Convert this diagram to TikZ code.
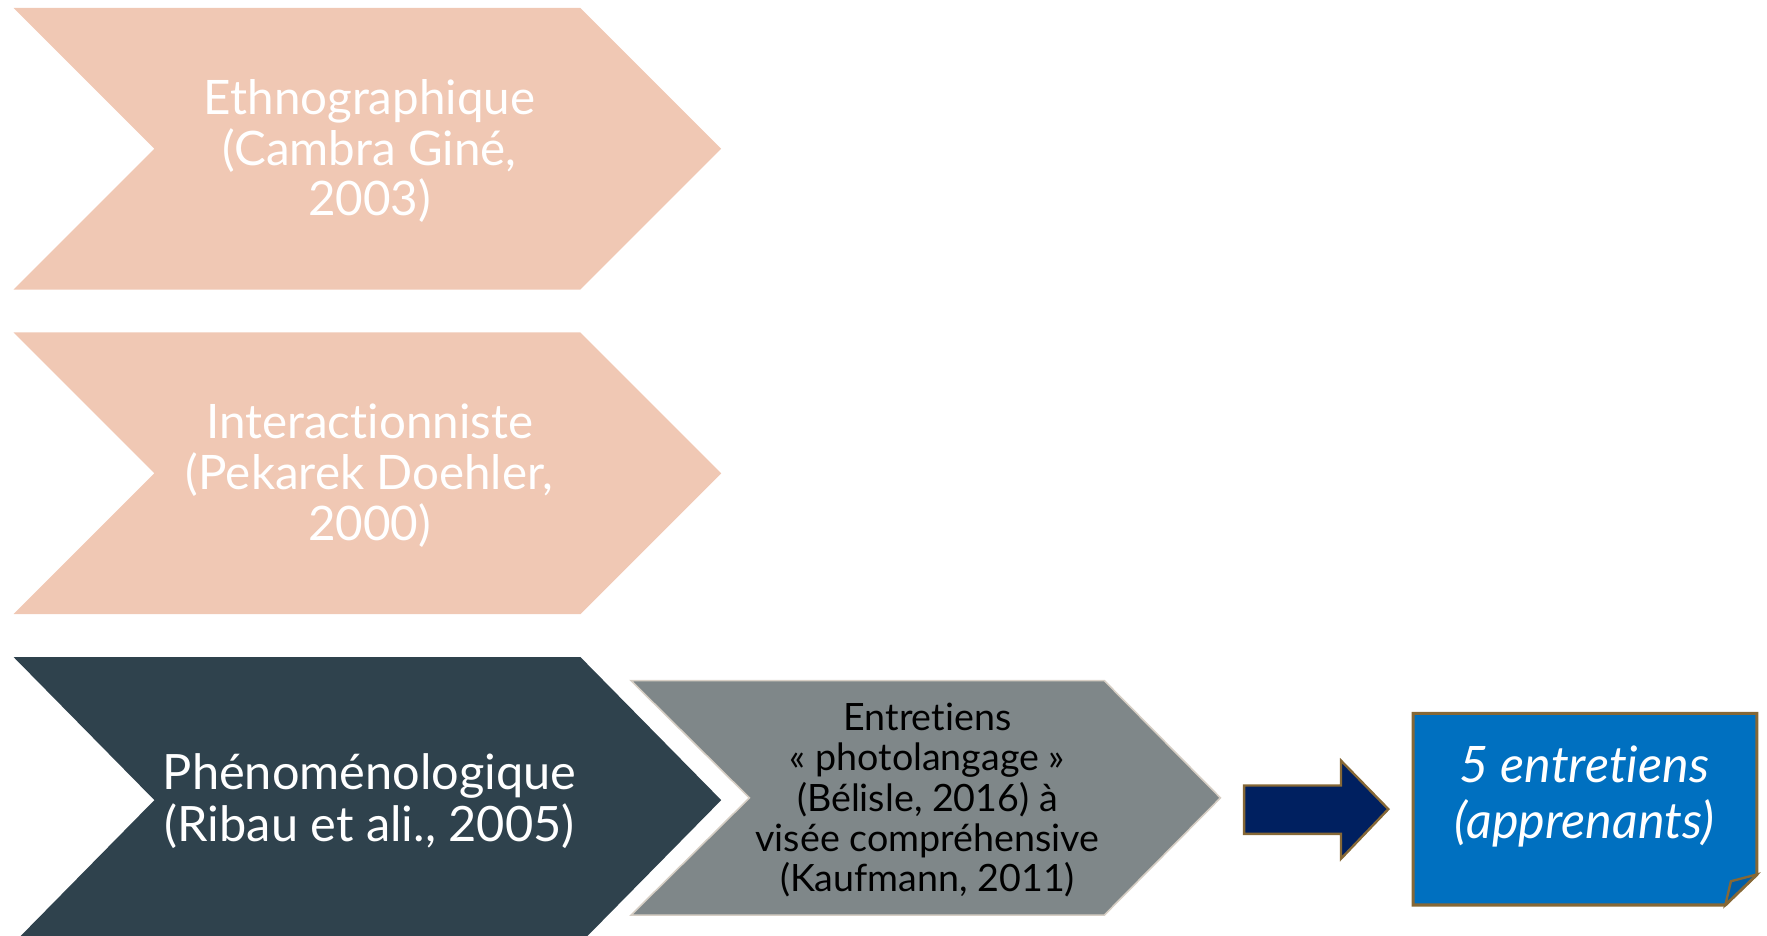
\documentclass[tikz,border=0pt]{standalone}
\usepackage{fontspec}
\setmainfont{Lato}[Ligatures={NoCommon}]
\usepackage{tikz}

\definecolor{pinkfill}{RGB}{240,200,180}
\definecolor{slatefill}{RGB}{47,66,77}
\definecolor{greyfill}{RGB}{127,135,137}
\definecolor{greyline}{RGB}{214,206,196}
\definecolor{navyfill}{RGB}{0,32,96}
\definecolor{bronze}{RGB}{134,104,54}
\definecolor{bluefill}{RGB}{0,112,192}
\definecolor{foldfill}{RGB}{0,94,168}

\tikzset{
  pinktext/.style={text=white,align=center,font=\fontsize{12}{12.8}\selectfont},
  slatetext/.style={text=white,align=center,font=\fontsize{12.3}{13.1}\selectfont},
  greytext/.style={text=black,align=center,font=\fontsize{9.5}{10.2}\selectfont},
  bluetext/.style={text=white,align=center,font=\fontsize{12.7}{14.2}\selectfont\itshape}
}

\begin{document}
\begin{tikzpicture}[x=0.1mm,y=-0.1mm]
	\useasboundingbox (0,0) rectangle (1568,830);
	% approches
	\fill[pinkfill](12,7)--(515,7)--(640,132)--(515,257)--(12,257)--(137,132)--cycle;
	\fill[pinkfill](12,295)--(515,295)--(640,420)--(515,545)--(12,545)--(137,420)--cycle;
	\fill[slatefill](12,583)--(515,583)--(640,710)--(515,837)--(12,837)--(137,710)--cycle;
	\node[pinktext] (ethno) at (328,134) {Ethnographique\\(Cambra Giné,\\2003)};
	\node[pinktext] (inter) at (328,422) {Interactionniste\\(Pekarek Doehler,\\2000)};
	\node[slatetext] (pheno) at (328,711) {Phénoménologique\\(Ribau et ali., 2005)};
	% outil
	\draw[greyline,fill=greyfill](560,604)--(980,604)--(1083,708)--(980,812)--(560,812)--(665,708)--cycle;
	\node[greytext] (outil) at (823,710) {Entretiens\\« photolangage »\\(Bélisle, 2016) à\\visée compréhensive\\(Kaufmann, 2011)};
	% fleche
	\draw[bronze,fill=navyfill,line width=0.6pt](1104,697)--(1190,697)--(1190,675)--(1232,718)--(1190,762)--(1190,740)--(1104,740)--cycle;
	% corpus
	\draw[bronze,fill=bluefill,line width=0.8pt](1254,633)--(1559,633)--(1559,776)--(1531,803)--(1254,803)--cycle;
	\draw[bronze,fill=foldfill,line width=0.6pt](1559,776)--(1536,782)--(1531,803)--cycle;
	\node[bluetext] (corpus) at (1406,707) {5 entretiens\\(apprenants)};
\end{tikzpicture}
\end{document}
